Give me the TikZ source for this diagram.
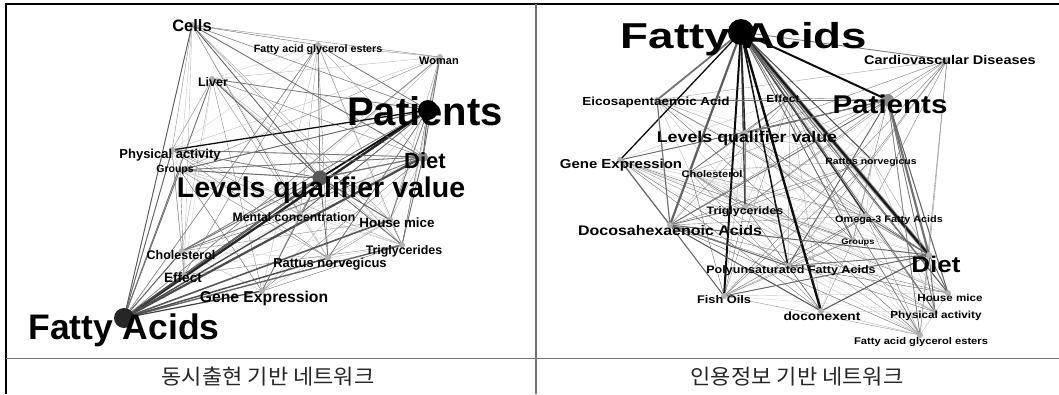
\documentclass[tikz,border=0pt]{standalone}
\usepackage{fontspec}
\setmainfont{Liberation Sans}
\newfontfamily\krfont{Noto Sans CJK KR}

\tikzset{
  dot/.style={circle, fill=black!45, inner sep=0pt, minimum size=#1},
  dot/.default=6pt,
  lbl/.style={font=\bfseries\fontsize{#1}{#1}\selectfont, inner sep=0pt, anchor=base},
  rlbl/.style={lbl=#1, xscale=1.15},
  link/.style={draw=black!#1, line width=0.4pt},
  frame/.style={black!55, line width=1.5pt},
  caption/.style={font=\krfont\fontsize{21}{21}\selectfont, text=black!85, xscale=1.05},
}

\newcommand\leftnodes{lcel,lfag,lwom,lliv,lpat,lphy,lgrp,ldie,llev,lmen,lhou,lcho,ltri,lrat,leff,lgen,lfat}
\newcommand\rightnodes{rfat,rcar,reic,reff,rpat,rlev,rgen,rcho,rrat,rtri,rome,rdoc,rgrp,rdie,rpol,rfis,rdcx,rhou,rphy,rfag}

\begin{document}
\begin{tikzpicture}[x=1pt, y=-1pt]
\useasboundingbox (0,0) rectangle (1059,394);

% table rules
\draw[line width=2.5pt] (5,4) -- (1059,4);
\draw[line width=2pt] (6,3) -- (6,394);
\draw[frame] (536,4) -- (536,394);
\draw[frame] (6,358.5) -- (1059,358.5);

% positions
\foreach \n/\px/\py in {lcel/192/25, lfag/318/45, lwom/440/57, lliv/212/79, lpat/428/110,
    lphy/172/150, lgrp/180/170, ldie/423/157, llev/320/178, lmen/300/214, lhou/390/220,
    lcho/182/251, ltri/402/245, lrat/328/258, leff/184/275, lgen/262/291, lfat/124/318}
  \coordinate (\n) at (\px,\py);
\foreach \n/\px/\py in {rfat/741/32, rcar/947/60, reic/657/100, reff/790/98, rpat/888/100,
    rlev/745/133, rgen/620/160, rcho/690/172, rrat/872/160, rtri/745/207, rome/866/216,
    rdoc/670/225, rgrp/853/240, rdie/929/255, rpol/788/266, rfis/724/296, rdcx/821/311,
    rhou/948/293, rphy/935/312, rfag/920/335}
  \coordinate (\n) at (\px,\py);

% thin links
\pgfmathsetseed{11}
\foreach \a [count=\i] in \leftnodes {
  \foreach \b [count=\j] in \leftnodes {
    \ifnum\j>\i\relax
      \pgfmathsetmacro\keep{rnd}
      \pgfmathsetmacro\g{int(15+50*rnd)}
      \ifdim\keep pt>0.2pt \draw[link=\g] (\a) -- (\b); \fi
    \fi
  }
}
\foreach \a [count=\i] in \rightnodes {
  \foreach \b [count=\j] in \rightnodes {
    \ifnum\j>\i\relax
      \pgfmathsetmacro\keep{rnd}
      \pgfmathsetmacro\g{int(15+50*rnd)}
      \ifdim\keep pt>0.2pt \draw[link=\g] (\a) -- (\b); \fi
    \fi
  }
}

% heavy links, left
\foreach \b/\g/\w in {lpat/85/2.4, ldie/70/2.2, llev/75/2, lhou/65/1.6, ltri/60/1.4, lrat/70/1.4,
    lgen/75/1.2, leff/70/1, lcho/60/1, lmen/70/1.4, lcel/65/0.9, lliv/55/0.8, lphy/60/0.9,
    lgrp/55/0.8, lfag/45/0.6, lwom/45/0.6}
  \draw[black!\g, line width=\w pt] (lfat) -- (\b);
\foreach \b/\g/\w in {lphy/95/1.3, llev/95/1.8, ldie/60/1, lliv/55/0.7, lcel/50/0.6, lfag/55/0.8,
    lwom/50/0.7, lmen/60/0.8, lhou/55/0.8, lrat/55/0.7, lgrp/60/0.8, lcho/50/0.6}
  \draw[black!\g, line width=\w pt] (lpat) -- (\b);
\foreach \b/\g/\w in {lcel/60/0.8, lliv/60/0.9, lfag/55/0.8, ldie/55/1.2, lhou/60/0.9, ltri/55/0.8,
    lrat/60/0.8, lgen/55/0.8, lcho/55/0.8, leff/55/0.8, lgrp/60/0.9, lphy/55/0.8}
  \draw[black!\g, line width=\w pt] (llev) -- (\b);
\foreach \b in {lgrp, lphy, lcho, ltri, lcel, lwom}
  \draw[black!55, line width=0.8pt] (ldie) -- (\b);

% heavy links, right
\draw[black!45, line width=4pt] (rfat) -- (rdie);
\foreach \b/\g/\w in {rfis/95/2, rdcx/95/2.4, rpol/90/1.6, rtri/70/1.4, rdie/90/2.2, rpat/95/2,
    rgen/95/1.3, rdoc/60/2.2, rlev/85/1.4, reic/55/1.8, rcar/50/0.9, rome/80/1.4, rrat/70/1,
    rgrp/60/0.8, rcho/65/1, rhou/60/1, rphy/55/0.8, rfag/50/0.7, reff/65/1}
  \draw[black!\g, line width=\w pt] (rfat) -- (\b);
\foreach \b/\g/\w in {rdie/55/2.2, rhou/60/1, rphy/55/0.8, rfag/50/0.7, rgen/60/0.8, reic/55/0.9,
    rdoc/55/0.8, rpol/60/0.9, rlev/55/0.9}
  \draw[black!\g, line width=\w pt] (rpat) -- (\b);
\foreach \b/\g/\w in {rgen/60/1.2, reic/55/1.2, rfis/60/1, rdcx/65/1, rpol/60/1, rdie/60/1, rtri/55/0.8}
  \draw[black!\g, line width=\w pt] (rdoc) -- (\b);
\foreach \b/\g/\w in {rfis/60/0.9, rdcx/65/1, rpol/55/0.9, rhou/60/0.9, rphy/55/0.8, rome/60/0.9}
  \draw[black!\g, line width=\w pt] (rdie) -- (\b);

% dots, left
\foreach \n in {lcel, lfag, lwom, lliv, lphy, lgrp, lmen, lhou, lcho, ltri, lrat, leff, lgen}
  \node[dot, fill=black!30] (\n-d) at (\n) {};
\node[dot=10pt] (ldie-d) at (ldie) {};
\node[dot=15pt, fill=black!65] (llev-d) at (llev) {};
\node[dot=20pt, fill=black] (lpat-d) at (lpat) {};
\node[dot=20pt, fill=black!85] (lfat-d) at (lfat) {};

% dots, right
\foreach \n in {rcar, reic, reff, rlev, rgen, rcho, rrat, rtri, rome, rdoc, rgrp, rdie, rpol, rfis,
    rdcx, rhou, rphy, rfag}
  \node[dot, fill=black!30] (\n-d) at (\n) {};
\node[dot=12pt] (rpat-d) at (rpat) {};
\node[dot=26pt, fill=black] (rfat-d) at (rfat) {};

% labels, left
\node[lbl=16.5] (lcel-t) at (192,31) {Cells};
\node[lbl=10.7] (lfag-t) at (318,52) {Fatty acid glycerol esters};
\node[lbl=11] (lwom-t) at (439,64) {Woman};
\node[lbl=12.5] (lliv-t) at (213,86) {Liver};
\node[lbl=40] (lpat-t) at (425,125) {Patients};
\node[lbl=13] (lphy-t) at (170,158) {Physical activity};
\node[lbl=10.5] (lgrp-t) at (175,172.5) {Groups};
\node[lbl=22] (ldie-t) at (425,168) {Diet};
\node[lbl=28.5] (llev-t) at (321,197) {Levels qualifier value};
\node[lbl=12.2] (lmen-t) at (294,221) {Mental concentration};
\node[lbl=13.4] (lhou-t) at (397,227) {House mice};
\node[lbl=12.5] (lcho-t) at (181,259) {Cholesterol};
\node[lbl=12.4] (ltri-t) at (404,254) {Triglycerides};
\node[lbl=13] (lrat-t) at (330,267) {Rattus norvegicus};
\node[lbl=13.6] (leff-t) at (183,282) {Effect};
\node[lbl=15.7] (lgen-t) at (264,302) {Gene Expression};
\node[lbl=35.5] (lfat-t) at (124,339) {Fatty Acids};

% labels, right
\node[lbl=36, xscale=1.27] (rfat-t) at (744,48) {Fatty Acids};
\node[rlbl=12.6] (rcar-t) at (950,64) {Cardiovascular Diseases};
\node[rlbl=11.7] (reic-t) at (656,105) {Eicosapentaenoic Acid};
\node[rlbl=10.4] (reff-t) at (783,102) {Effect};
\node[rlbl=25.7] (rpat-t) at (890,113) {Patients};
\node[rlbl=15.5] (rlev-t) at (747,142) {Levels qualifier value};
\node[rlbl=13] (rgen-t) at (621,168) {Gene Expression};
\node[rlbl=9.6] (rcho-t) at (712,177) {Cholesterol};
\node[rlbl=9.1] (rrat-t) at (871,164) {Rattus norvegicus};
\node[rlbl=10.8] (rtri-t) at (745,214) {Triglycerides};
\node[rlbl=9.4] (rome-t) at (889,222) {Omega-3 Fatty Acids};
\node[rlbl=13.9] (rdoc-t) at (670,235) {Docosahexaenoic Acids};
\node[rlbl=8.1] (rgrp-t) at (858,244) {Groups};
\node[rlbl=22.6] (rdie-t) at (936,272) {Diet};
\node[rlbl=10.9] (rpol-t) at (791,273) {Polyunsaturated Fatty Acids};
\node[rlbl=11.1] (rfis-t) at (724,303) {Fish Oils};
\node[rlbl=11.9] (rdcx-t) at (822,320) {doconexent};
\node[rlbl=10.1] (rhou-t) at (950,301) {House mice};
\node[rlbl=10.2] (rphy-t) at (936,318) {Physical activity};
\node[rlbl=9.7] (rfag-t) at (921,344) {Fatty acid glycerol esters};

% captions
\node[caption] (capl) at (268,377) {동시출현 기반 네트워크};
\node[caption] (capr) at (797,377) {인용정보 기반 네트워크};
\end{tikzpicture}
\end{document}
